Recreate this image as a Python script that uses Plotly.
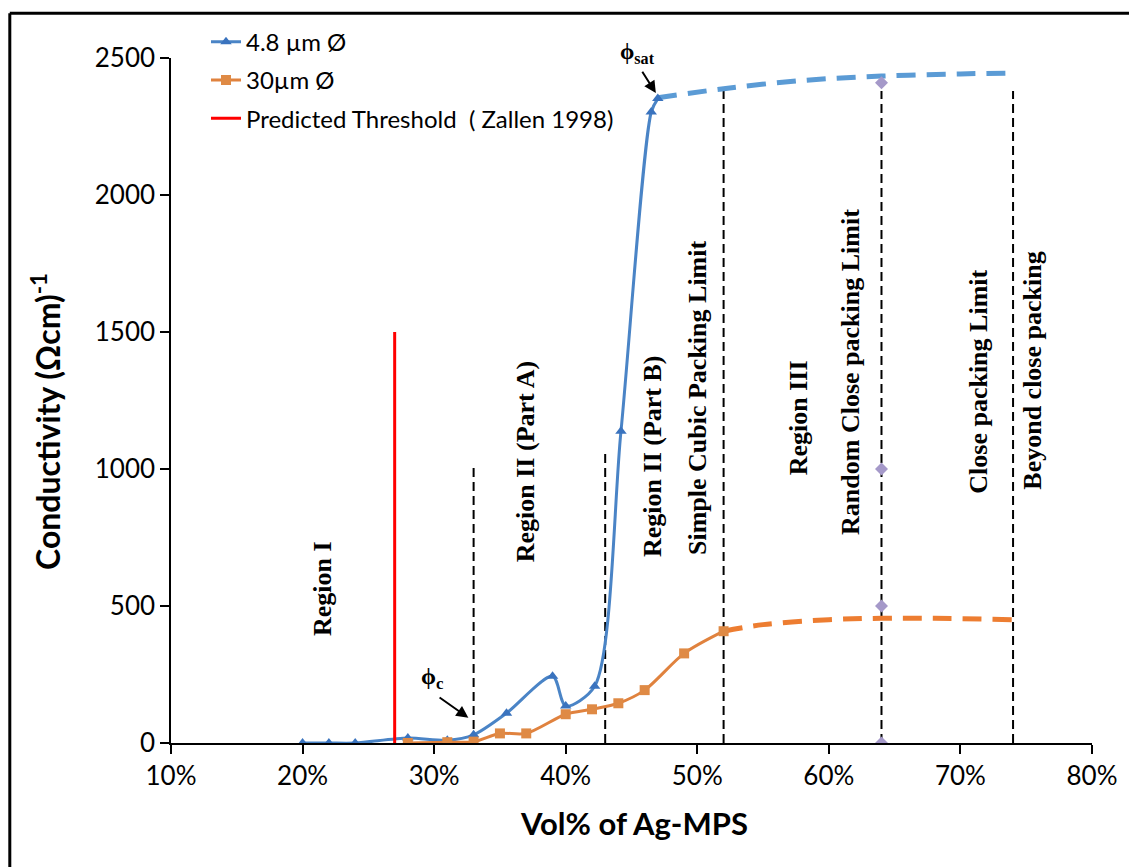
import plotly.graph_objects as go

# ---------------- data ----------------
blue_x = [20, 22, 24, 28, 31, 33, 35.5, 39, 40, 42.2, 44.2, 46.5, 47]
blue_y = [0, 0, 0, 18, 10, 30, 109, 244, 135, 207, 1138, 2303, 2352]

orange_x = [28, 31, 33, 35, 37, 40, 42, 44, 46, 49, 52]
orange_y = [0, 3, 5, 35, 35, 105, 123, 145, 193, 327, 408]

blue_ext_x = [47, 52, 58, 64, 70, 74]
blue_ext_y = [2355, 2388, 2418, 2434, 2442, 2445]

orange_ext_x = [52, 55, 60, 64, 68, 74]
orange_ext_y = [408, 432, 450, 455, 455, 450]

threshold_x = [27, 27]
threshold_y = [0, 1500]

vline_x = [33, 43, 52, 64, 74]
vline_top = [1010, 1070, 2380, 2380, 2380]

diamond_x = [64, 64, 64, 64]
diamond_y = [0, 500, 1000, 2410]

region_labels = ["Region I", "Region II (Part A)", "Region II (Part B)",
                 "Simple Cubic Packing Limit", "Region III",
                 "Random Close packing Limit", "Close packing Limit",
                 "Beyond close packing"]
region_x = [21.5, 36.9, 46.6, 50.0, 57.7, 61.6, 71.4, 75.5]
region_y = [563, 1028, 1046, 1260, 1187, 1354, 1318, 1358]

x_ticks = [10, 20, 30, 40, 50, 60, 70, 80]
x_tick_labels = ["10%", "20%", "30%", "40%", "50%", "60%", "70%", "80%"]
y_ticks = [0, 500, 1000, 1500, 2000, 2500]

# ---------------- figure ----------------
BLUE = "#4A84C6"
BLUE_M = "#3A73BE"
BLUE_D = "#5B9BD5"
ORANGE = "#E0823E"
ORANGE_M = "#DF8A45"
ORANGE_D = "#ED7D31"
SERIF = "Liberation Serif"
SANS = "Lato"

# plot area position in the page (page has an 8px body margin)
PX0, PX1, PY_TOP, PY_BOT = 170.7, 1091.7, 54.5, 743.0
PW, PH = PX1 - PX0, PY_BOT - PY_TOP


def px_to_paper(px, py):
    return (px - PX0) / PW, (PY_BOT - py) / PH


fig = go.Figure()

# vertical dashed reference lines
for vx, vt in zip(vline_x, vline_top):
    fig.add_trace(go.Scatter(x=[vx, vx], y=[0, vt], mode="lines",
                             line=dict(color="black", width=2, dash="9px,5px"),
                             showlegend=False, hoverinfo="skip"))

# dashed extensions
fig.add_trace(go.Scatter(x=blue_ext_x, y=blue_ext_y, mode="lines",
                         line=dict(color=BLUE_D, width=5, dash="19px,11px", shape="spline"),
                         showlegend=False, hoverinfo="skip"))
fig.add_trace(go.Scatter(x=orange_ext_x, y=orange_ext_y, mode="lines",
                         line=dict(color=ORANGE_D, width=5, dash="19px,11px", shape="spline"),
                         showlegend=False, hoverinfo="skip"))

# diamonds
fig.add_trace(go.Scatter(x=diamond_x, y=diamond_y, mode="markers",
                         marker=dict(symbol="diamond", size=10, color="#A599C9"),
                         showlegend=False, hoverinfo="skip"))

# main series
fig.add_trace(go.Scatter(x=blue_x, y=blue_y, mode="lines+markers", name="4.8 µm Ø",
                         line=dict(color=BLUE, width=3, shape="spline", smoothing=0.8),
                         marker=dict(symbol="triangle-up", size=10, color=BLUE_M),
                         legendgroup="a"))
fig.add_trace(go.Scatter(x=orange_x, y=orange_y, mode="lines+markers", name="30µm Ø",
                         line=dict(color=ORANGE, width=3, shape="spline", smoothing=0.8),
                         marker=dict(symbol="square", size=10, color=ORANGE_M),
                         legendgroup="b"))
fig.add_trace(go.Scatter(x=threshold_x, y=threshold_y, mode="lines",
                         name="Predicted Threshold  ( Zallen 1998)",
                         line=dict(color="#FF0000", width=3),
                         legendgroup="c"))

annotations = []
for lab, lx, ly in zip(region_labels, region_x, region_y):
    annotations.append(dict(x=lx, y=ly, xref="x", yref="y", text="<b>%s</b>" % lab,
                            textangle=-90, showarrow=False,
                            font=dict(family=SERIF, size=26, color="black")))

# phi_c
annotations.append(dict(x=29.9, y=236, xref="x", yref="y", text="<b>ϕ<sub>c</sub></b>",
                        showarrow=False, font=dict(family=SERIF, size=24, color="black")))
annotations.append(dict(x=32.6, y=92, xref="x", yref="y", ax=30.3, ay=170,
                        axref="x", ayref="y", text="", showarrow=True,
                        arrowhead=2, arrowsize=1.2, arrowwidth=2, arrowcolor="black"))
# phi_sat (paper coords so it can sit above the axis range)
sx, sy = px_to_paper(637, 33)
annotations.append(dict(x=sx, y=sy, xref="paper", yref="paper",
                        text="<b>ϕ<sub>sat</sub></b>",
                        showarrow=False, font=dict(family=SERIF, size=23, color="black")))
annotations.append(dict(x=46.85, y=2372, xref="x", yref="y", ax=45.75, ay=2455,
                        axref="x", ayref="y", text="", showarrow=True,
                        arrowhead=2, arrowsize=1.2, arrowwidth=2, arrowcolor="black"))

# axis titles
tx, ty = px_to_paper(634, 845)
annotations.append(dict(x=tx, y=ty, xref="paper", yref="paper",
                        text="<b>Vol% of Ag-MPS</b>", showarrow=False,
                        font=dict(family=SANS, size=31, color="black")))
yx, yy = px_to_paper(22, 420)
annotations.append(dict(x=yx, y=yy, xref="paper", yref="paper",
                        text="<b>Conductivity (Ωcm)<sup>-1</sup></b>", showarrow=False,
                        textangle=-90, font=dict(family=SANS, size=32, color="black")))

# outer frame (top and left edges visible in the reference)
bx, by = px_to_paper(9.5, 9.5)
shapes = [
    dict(type="line", xref="paper", yref="paper", x0=bx, x1=1.2, y0=by, y1=by,
         line=dict(color="black", width=3)),
    dict(type="line", xref="paper", yref="paper", x0=bx, x1=bx, y0=-0.3, y1=by,
         line=dict(color="black", width=3)),
]

fig.update_layout(
    width=1129, height=859,
    margin=dict(l=PX0 - 8, r=1129 - (PX1 - 8), t=PY_TOP - 8, b=859 - (PY_BOT - 8)),
    paper_bgcolor="white", plot_bgcolor="white",
    annotations=annotations, shapes=shapes,
    legend=dict(x=0.038, y=1.056, xanchor="left", yanchor="top",
                font=dict(family=SANS, size=24, color="black"),
                bgcolor="rgba(0,0,0,0)", tracegroupgap=4),
    xaxis=dict(range=[10, 80], tickvals=x_ticks, ticktext=x_tick_labels,
               showgrid=False, zeroline=False, showline=True, linecolor="black", linewidth=1.5,
               ticks="outside", ticklen=9, tickcolor="black", tickwidth=1.5,
               tickfont=dict(family=SANS, size=26, color="black")),
    yaxis=dict(range=[0, 2500], tickvals=y_ticks,
               showgrid=False, zeroline=False, showline=True, linecolor="black", linewidth=1.5,
               ticks="outside", ticklen=9, tickcolor="black", tickwidth=1.5,
               tickfont=dict(family=SANS, size=26, color="black")),
)

fig.write_html("out.html")
